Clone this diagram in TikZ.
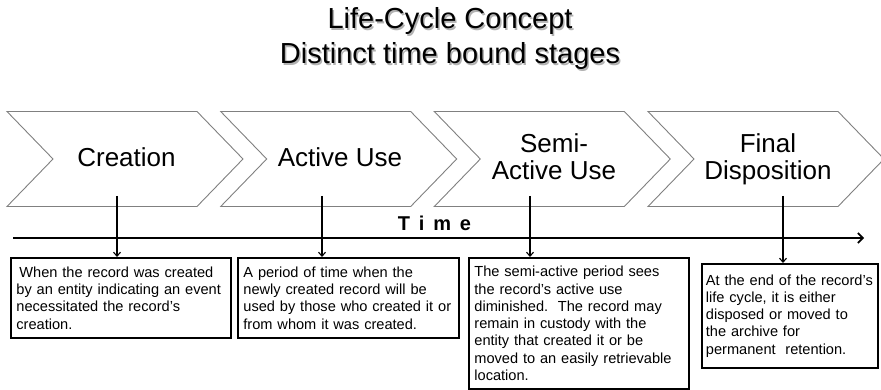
\documentclass[tikz,border=0pt]{standalone}
\usepackage{fontspec}
\setmainfont{Liberation Sans}
\usetikzlibrary{arrows.meta}
\begin{document}
\begin{tikzpicture}[x=1pt,y=-1pt,
  chev/.style={draw=black!50, line width=0.9pt, fill=white},
  titletext/.style={font=\fontsize{29}{35}\selectfont, inner sep=0pt, anchor=base},
  stagelab/.style={font=\fontsize{26}{27}\selectfont, inner sep=0pt, anchor=base},
  descbox/.style={draw=black, line width=1.8pt, anchor=north west, inner xsep=5.5pt, inner ysep=0pt, align=left, font=\fontsize{14.6}{17.3}\selectfont},
  conn/.style={line width=1.1pt, -{Straight Barb[length=4pt,width=7pt]}},
  axis/.style={line width=1.4pt, -{Straight Barb[length=5pt,width=10pt,line width=1.6pt]}},
]
\useasboundingbox (0,0) rectangle (881,390);

% title with soft shadow
\node[titletext, text=black!30] (titleshadow) at (451.5,30.5)
  {\begin{tabular}[t]{@{}c@{}}Life-Cycle Concept\\Distinct time bound stages\end{tabular}};
\node[titletext] (title) at (450,29)
  {\begin{tabular}[t]{@{}c@{}}Life-Cycle Concept\\Distinct time bound stages\end{tabular}};

% chevrons
\foreach \x in {7,220.7,434.3,648}{
  \draw[chev] (\x,111.5) -- ++(190,0) -- ++(46,47.5) -- ++(-46,47.5)
     -- ++(-190,0) -- ++(46,-47.5) -- cycle;
}
\node[stagelab] (creation) at (126.5,167) {Creation};
\node[stagelab] (active) at (340,167) {Active Use};
\node[stagelab] (semi) at (554,153) {\begin{tabular}[t]{@{}c@{}}Semi-\\Active Use\end{tabular}};
\node[stagelab] (final) at (768,153) {\begin{tabular}[t]{@{}c@{}}Final\\Disposition\end{tabular}};

% time axis
\coordinate (axisstart) at (13,238);
\coordinate (axisend) at (864,238);
\draw[axis] (axisstart) -- (axisend);
\node[font=\fontsize{20}{21}\selectfont\bfseries, inner sep=0pt, anchor=base] (time) at (434.5,230.5)
  {T\hspace{8.8pt}i\hspace{8.8pt}m\hspace{8.8pt}e};

% description boxes
\node[descbox, minimum width=220pt, minimum height=80pt, text width=209pt] (b1) at (10,257)
  {\hspace{3pt}When the record was created\\by an entity indicating an event\\necessitated the record’s\\creation.};
\node[descbox, minimum width=221pt, minimum height=80pt, text width=210pt] (b2) at (237,257)
  {A period of time when the\\newly created record will be\\used by those who created it or\\from whom it was created.};
\node[descbox, minimum width=220pt, minimum height=131pt, text width=209pt] (b3) at (468,257)
  {The semi-active period sees\\the record’s active use\\diminished.\ \ The record may\\remain in custody with the\\entity that created it or be\\moved to an easily retrievable\\location.};
\node[descbox, inner xsep=4pt, minimum width=176pt, minimum height=104pt, text width=168pt] (b4) at (701,263)
  {At the end of the record's\\life cycle, it is either\\disposed or moved to\\the archive for\\permanent\ \ retention.};

% connectors
\coordinate (c1) at (117,196);
\coordinate (c2) at (322,196);
\coordinate (c3) at (530,196);
\coordinate (c4) at (783,196);
\draw[conn] (c1) -- (c1 |- b1.north);
\draw[conn] (c2) -- (c2 |- b2.north);
\draw[conn] (c3) -- (c3 |- b3.north);
\draw[conn] (c4) -- (c4 |- b4.north);
\end{tikzpicture}
\end{document}
